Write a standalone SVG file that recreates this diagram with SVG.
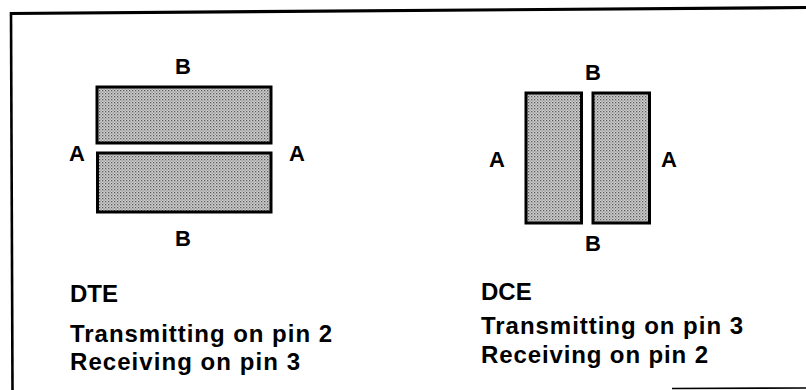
<svg xmlns="http://www.w3.org/2000/svg" width="806" height="390" viewBox="0 0 806 390">
<defs>
<pattern id="stip" width="3" height="3" patternUnits="userSpaceOnUse">
<rect width="3" height="3" fill="#d0d0d0"/>
<rect x="0" y="0" width="1.3" height="1.3" fill="#5a5a5a"/>
<rect x="1.5" y="1.5" width="1.2" height="1.2" fill="#808080"/>
</pattern>
</defs>
<style>
.blk{fill:url(#stip);stroke:#000;stroke-width:3}
.lbl{font-family:"Liberation Sans",Arial,sans-serif;font-weight:bold;font-size:22px;fill:#000;text-anchor:middle}
.cap{font-family:"Liberation Sans",Arial,sans-serif;font-weight:bold;font-size:24px;fill:#000}
.frame{stroke:#000;fill:none}
</style>
<rect width="806" height="390" fill="#fff"/>
<g id="frame">
<line class="frame" x1="10" y1="13.5" x2="806" y2="7.5" stroke-width="3.2"/>
<line class="frame" x1="11" y1="12" x2="12.5" y2="390" stroke-width="2.6"/>
<line class="frame" x1="672" y1="388.5" x2="806" y2="388" stroke-width="1.6"/>
</g>
<g id="dte">
<rect class="blk" x="97" y="87" width="174" height="56"/>
<rect class="blk" x="97.5" y="153" width="173.5" height="59"/>
<text class="lbl" x="183" y="74">B</text>
<text class="lbl" x="77" y="161">A</text>
<text class="lbl" x="297" y="161">A</text>
<text class="lbl" x="183" y="246">B</text>
<text class="cap" x="70" y="302">DTE</text>
<text class="cap" x="70" y="341.5" textLength="262" lengthAdjust="spacing">Transmitting on pin 2</text>
<text class="cap" x="70" y="370" textLength="230" lengthAdjust="spacing">Receiving on pin 3</text>
</g>
<g id="dce">
<rect class="blk" x="526" y="93" width="55.5" height="130"/>
<rect class="blk" x="593" y="93" width="56.5" height="130"/>
<text class="lbl" x="593" y="79.5">B</text>
<text class="lbl" x="497" y="167">A</text>
<text class="lbl" x="669" y="167">A</text>
<text class="lbl" x="593" y="250.5">B</text>
<text class="cap" x="481" y="299.5">DCE</text>
<text class="cap" x="481" y="334" textLength="262" lengthAdjust="spacing">Transmitting on pin 3</text>
<text class="cap" x="481" y="362.5" textLength="227" lengthAdjust="spacing">Receiving on pin 2</text>
</g>
</svg>
